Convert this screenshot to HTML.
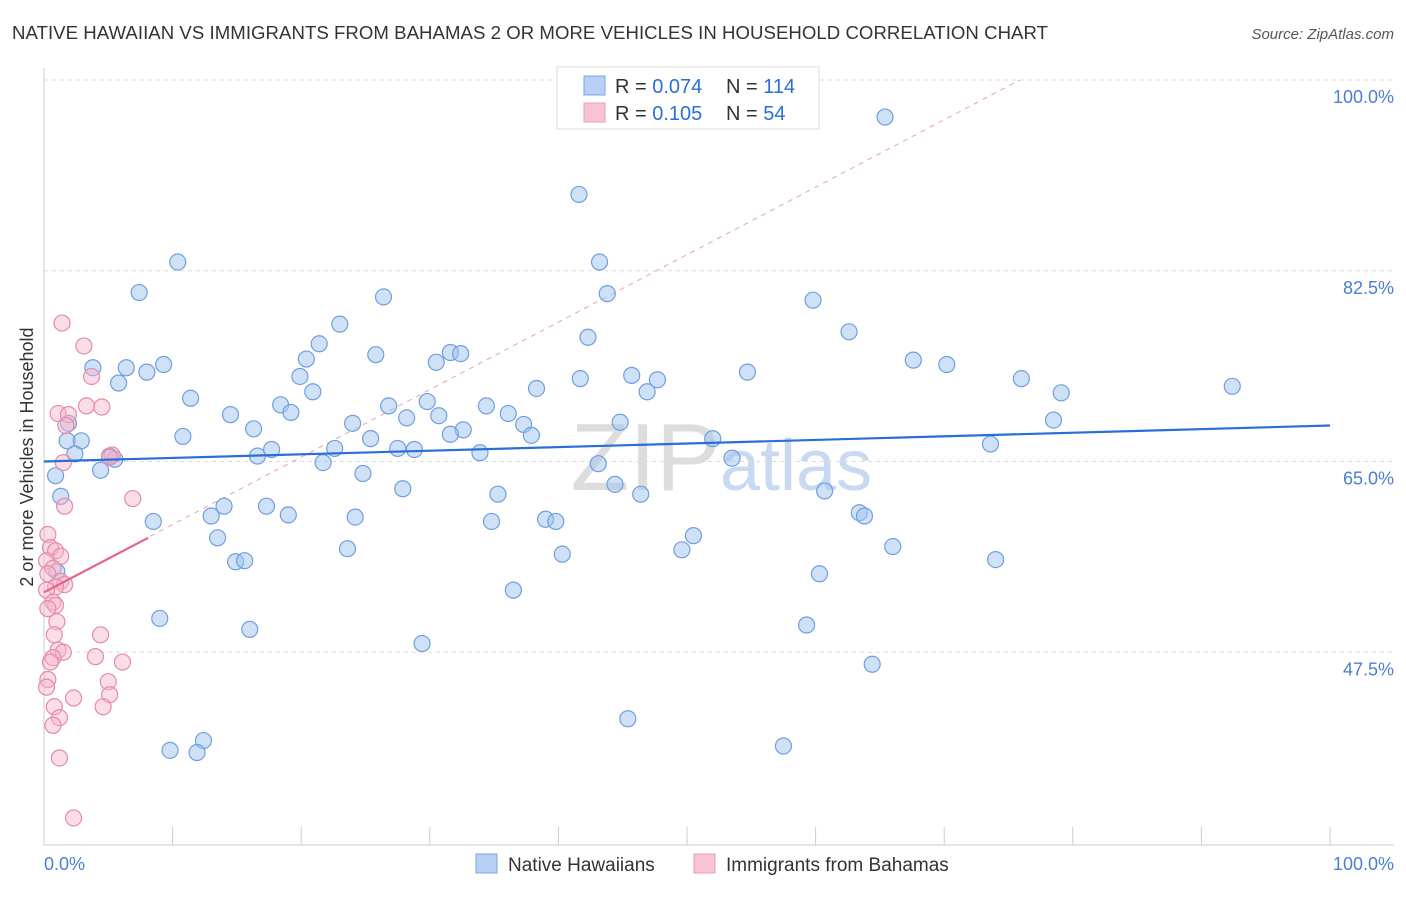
<!DOCTYPE html>
<html><head><meta charset="utf-8"><style>
body{margin:0;background:#fff;font-family:"Liberation Sans",sans-serif;}
svg text{font-family:"Liberation Sans",sans-serif;}
</style></head><body>
<svg id="chart" width="1406" height="892" viewBox="0 0 1406 892">
<text x="12" y="39" font-size="18.6" fill="#333" textLength="1036">NATIVE HAWAIIAN VS IMMIGRANTS FROM BAHAMAS 2 OR MORE VEHICLES IN HOUSEHOLD CORRELATION CHART</text>
<text x="1394" y="39" font-size="15" fill="#555" font-style="italic" text-anchor="end">Source: ZipAtlas.com</text>
<text x="720" y="490" font-size="96" fill="#ddd" text-anchor="end" font-family="Liberation Serif">ZIP</text>
<text x="720" y="490" font-size="72" fill="#c9d9f2">atlas</text>
<g id="grid"></g><g id="axes"></g>
<line x1="44" y1="592" x2="1020" y2="80" stroke="#e8a0b8" stroke-width="1" stroke-dasharray="5,5" id="pinkdash"/>
<g id="pts"></g><g id="lines"></g>
<text transform="translate(33,457) rotate(-90)" font-size="18" fill="#333" text-anchor="middle">2 or more Vehicles in Household</text>
<text x="44" y="870" font-size="18" fill="#4a7fd4">0.0%</text>
<text x="1394" y="870" font-size="18" fill="#4a7fd4" text-anchor="end">100.0%</text>
<g>
<rect x="557" y="67" width="262" height="62" fill="#fff" stroke="#ddd"/>
<rect x="584" y="76" width="21" height="19" fill="#b8d0f4" stroke="#7aa5e3"/>
<rect x="584" y="103" width="21" height="19" fill="#f8c4d4" stroke="#eb9ab4"/>
<text x="615" y="93" font-size="20" fill="#333">R = <tspan fill="#2a6fd6">0.074</tspan></text>
<text x="726" y="93" font-size="20" fill="#333">N = <tspan fill="#2a6fd6">114</tspan></text>
<text x="615" y="120" font-size="20" fill="#333">R =  <tspan fill="#2a6fd6">0.105</tspan></text>
<text x="726" y="120" font-size="20" fill="#333">N =  <tspan fill="#2a6fd6">54</tspan></text>
</g>
<g>
<rect x="476" y="854" width="21" height="19" fill="#b8d0f4" stroke="#7aa5e3"/>
<text x="508" y="871" font-size="19" fill="#333">Native Hawaiians</text>
<rect x="694" y="854" width="21" height="19" fill="#f8c4d4" stroke="#eb9ab4"/>
<text x="726" y="871" font-size="19" fill="#333">Immigrants from Bahamas</text>
</g>
</svg>
<script>
const yTicks=[100,82.5,65,47.5];
const yTickLabels=["100.0%","82.5%","65.0%","47.5%"];
const xTicks=[0,10,20,30,40,50,60,70,80,90,100];
const blueX=[65.4,41.6,10.4,43.2,7.4,43.8,59.8,26.4,23.0,62.6,42.3,21.4,25.8,20.4,31.6,32.4,30.5,67.6,70.2,9.3,6.4,3.8,8.0,5.8,19.9,41.7,45.7,47.7,54.7,76.0,92.4,20.9,79.1,38.3,11.4,46.9,18.4,26.8,29.8,19.2,34.4,14.5,28.2,30.7,36.1,24.0,37.3,44.8,78.5,1.9,1.8,10.8,16.3,32.6,31.6,37.9,25.4,52.0,2.9,73.6,22.6,27.5,28.8,33.9,16.6,17.7,5.1,2.4,5.5,21.7,43.1,53.5,4.4,24.8,0.9,44.4,27.9,46.4,35.3,60.7,1.3,14.0,17.3,13.0,19.0,63.4,63.8,8.5,24.2,34.8,39.0,39.8,13.5,50.5,49.6,66.0,23.6,40.3,74.0,14.9,15.6,60.3,36.5,1.0,9.0,59.3,16.0,29.4,64.4,45.4,12.4,9.8,11.9,57.5];
const blueY=[96.6,89.5,83.3,83.3,80.5,80.4,79.8,80.1,77.6,76.9,76.4,75.8,74.8,74.4,75.0,74.9,74.1,74.3,73.9,73.9,73.6,73.6,73.2,72.2,72.8,72.6,72.9,72.5,73.2,72.6,71.9,71.4,71.3,71.7,70.8,71.4,70.2,70.1,70.5,69.5,70.1,69.3,69.0,69.2,69.4,68.5,68.4,68.6,68.8,68.5,66.9,67.3,68.0,67.9,67.5,67.4,67.1,67.1,66.9,66.6,66.2,66.2,66.1,65.8,65.5,66.1,65.5,65.7,65.2,64.9,64.8,65.3,64.2,63.9,63.7,62.9,62.5,62.0,62.0,62.3,61.8,60.9,60.9,60.0,60.1,60.3,60.0,59.5,59.9,59.5,59.7,59.5,58.0,58.2,56.9,57.2,57.0,56.5,56.0,55.8,55.9,54.7,53.2,54.9,50.6,50.0,49.6,48.3,46.4,41.4,39.4,38.5,38.3,38.9];
const pinkX=[1.4,3.1,3.7,3.3,4.5,1.1,1.9,1.7,5.3,1.5,5.1,6.9,1.6,0.3,0.5,0.9,1.3,0.2,0.7,0.3,1.3,1.6,0.9,0.2,0.7,0.9,0.3,1.0,4.4,0.8,1.1,1.5,0.7,4.0,6.1,0.5,0.3,5.0,0.2,5.1,2.3,0.8,4.6,1.2,0.7,1.2,2.3];
const pinkY=[77.7,75.6,72.8,70.1,70.0,69.4,69.3,68.3,65.6,64.9,65.4,61.6,60.9,58.3,57.1,56.8,56.3,55.9,55.2,54.7,54.0,53.7,53.5,53.2,52.1,51.8,51.5,50.3,49.1,49.1,47.7,47.5,47.0,47.1,46.6,46.6,45.0,44.8,44.3,43.6,43.3,42.5,42.5,41.5,40.8,37.8,32.3];
const xs=v=>44+v*12.86, ys=v=>80+(100-v)*10.9;
const NS="http://www.w3.org/2000/svg";
function mk(tag,attrs,parent){const e=document.createElementNS(NS,tag);for(const k in attrs)e.setAttribute(k,attrs[k]);parent.appendChild(e);return e;}
const grid=document.getElementById('grid'),axes=document.getElementById('axes');
yTicks.forEach((t,i)=>{
 const l=mk('line',{x1:44,x2:1394,y1:ys(t),y2:ys(t),stroke:'#ddd','stroke-dasharray':'4,4'},grid);
 
 
 const tx=mk('text',{x:1394,y:ys(t)+23,'font-size':18,fill:'#4a7fd4','text-anchor':'end'},grid);
 tx.textContent=yTickLabels[i];
 
 
});
const ax=mk('line',{x1:44,x2:1394,y1:845,y2:845,stroke:'#ccc'},axes);


const ay=mk('line',{x1:44,x2:44,y1:68,y2:845,stroke:'#ccc'},axes);


xTicks.forEach(t=>{const l=mk('line',{x1:xs(t),x2:xs(t),y1:827,y2:845,stroke:'#ccc'},axes);
 
 });
const pts=document.getElementById('pts');
blueX.forEach((x,i)=>{const c=mk('circle',{cx:xs(x),cy:ys(blueY[i]),r:8,fill:'rgba(160,195,240,0.5)',stroke:'#6f9fe0','stroke-width':1.2},pts);
 
 });
pinkX.forEach((x,i)=>{const c=mk('circle',{cx:xs(x),cy:ys(pinkY[i]),r:8,fill:'rgba(246,180,202,0.45)',stroke:'#e88aa8','stroke-width':1.2},pts);
 
 });
const lines=document.getElementById('lines');
const bl=mk('line',{x1:xs(0),y1:ys(65.0),x2:xs(100),y2:ys(68.3),stroke:'#2a6fd6','stroke-width':2.2},lines);


const pl=mk('line',{x1:xs(0),y1:ys(53.0),x2:xs(8.1),y2:ys(58.0),stroke:'#e8608b','stroke-width':2.2},lines);


</script>
</body></html>
